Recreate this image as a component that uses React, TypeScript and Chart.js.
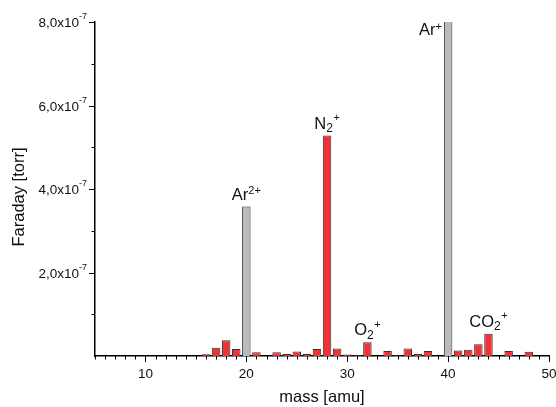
import React, { useEffect, useRef } from 'react';
import { Chart, registerables } from 'chart.js';

Chart.register(...registerables);

// ---- data ----
const redMasses = [16, 17, 18, 19, 21, 23, 24, 25, 26, 27, 28, 29, 30, 31, 32, 34, 35, 36, 37, 38, 41, 42, 43, 44, 46, 48];
const redValues = [0.4e-8, 2.0e-8, 3.75e-8, 1.7e-8, 0.9e-8, 0.9e-8, 0.5e-8, 1.1e-8, 0.5e-8, 1.7e-8, 5.28e-7, 1.8e-8, 0.35e-8, 0.2e-8, 3.3e-8, 1.2e-8, 0.15e-8, 1.8e-8, 0.45e-8, 1.2e-8, 1.3e-8, 1.5e-8, 2.8e-8, 5.3e-8, 1.2e-8, 1.0e-8];
const grayMasses = [20, 40];
const grayValues = [3.58e-7, 8.4e-7];

const yTickValues = [2e-7, 4e-7, 6e-7, 8e-7];
const yTickMantissas = ['2,0', '4,0', '6,0', '8,0'];
const yTickExponent = '-7';
const yTitle = 'Faraday [torr]';
const xTitle = 'mass [amu]';

const peakMasses = [20, 28, 32, 40, 44];
const peakBase = ['Ar', 'N', 'O', 'Ar', 'CO'];
const peakSub = ['', '2', '2', '', '2'];
const peakSup = ['2+', '+', '+', '+', '+'];
const peakBeside = [false, false, false, true, false];

const RED = '#ee3338';
const GRAY = '#b7bbbb';
const EDGE = '#333333';
const FONT = "'Liberation Sans', Arial, Helvetica, sans-serif";

export default function App() {
  const ref = useRef<HTMLCanvasElement>(null);

  useEffect(() => {
    const canvas = ref.current;
    if (!canvas) return;

    const all = [
      ...redMasses.map((m, i) => ({ x: m, y: redValues[i], c: RED })),
      ...grayMasses.map((m, i) => ({ x: m, y: grayValues[i], c: GRAY })),
    ].sort((a, b) => a.x - b.x);

    const ticksPlugin = {
      id: 'customTicks',
      afterDraw(chart: any) {
        const ctx = chart.ctx;
        const xs = chart.scales.x;
        const ys = chart.scales.y;
        ctx.save();
        ctx.strokeStyle = '#000';
        ctx.lineWidth = 1;
        const yb = ys.bottom;
        xs.ticks.forEach((t: any) => {
          const px = Math.round(xs.getPixelForValue(t.value)) + 0.5;
          const len = Math.round(t.value) % 10 === 0 ? 6 : 3.5;
          ctx.beginPath();
          ctx.moveTo(px, yb);
          ctx.lineTo(px, yb + len);
          ctx.stroke();
        });
        const xl = xs.left;
        ys.ticks.forEach((t: any) => {
          const k = Math.round(t.value / 1e-7);
          if (k === 0) return;
          const py = Math.round(ys.getPixelForValue(t.value)) + 0.5;
          const len = k % 2 === 0 ? 6 : 3.5;
          ctx.beginPath();
          ctx.moveTo(xl, py);
          ctx.lineTo(xl - len, py);
          ctx.stroke();
        });
        // y tick labels with superscript exponent
        ctx.fillStyle = '#111';
        yTickValues.forEach((v, i) => {
          const py = ys.getPixelForValue(v);
          ctx.font = `9px ${FONT}`;
          const supW = ctx.measureText(yTickExponent).width;
          const right = xl - 8;
          ctx.textAlign = 'right';
          ctx.textBaseline = 'alphabetic';
          ctx.fillText(yTickExponent, right, py - 3);
          ctx.font = `13.5px ${FONT}`;
          ctx.fillText(yTickMantissas[i] + 'x10', right - supW, py + 5);
        });
        // y axis title
        ctx.save();
        ctx.translate(19, (ys.top + ys.bottom) / 2 + 8);
        ctx.rotate(-Math.PI / 2);
        ctx.font = `16.5px ${FONT}`;
        ctx.textAlign = 'center';
        ctx.textBaseline = 'middle';
        ctx.fillStyle = '#111';
        ctx.fillText(yTitle, 0, 0);
        ctx.restore();
        // peak labels
        const meta = chart.getDatasetMeta(0);
        peakMasses.forEach((m, i) => {
          const idx = all.findIndex((d) => d.x === m);
          if (idx < 0) return;
          const bar = meta.data[idx];
          const px = xs.getPixelForValue(m);
          const top = Math.max(ys.top, ys.getPixelForValue(all[idx].y));
          const half = bar && bar.width ? bar.width / 2 : 4;
          ctx.font = `16.5px ${FONT}`;
          const wBase = ctx.measureText(peakBase[i]).width;
          ctx.font = `12px ${FONT}`;
          const wSub = peakSub[i] ? ctx.measureText(peakSub[i]).width + 0.5 : 0;
          ctx.font = `11px ${FONT}`;
          const wSup = ctx.measureText(peakSup[i]).width;
          const total = wBase + wSub + wSup;
          let x0: number;
          let base: number;
          if (peakBeside[i]) {
            x0 = px - half - 2 - total;
            base = ys.top + 13;
          } else {
            x0 = px - total / 2;
            base = top - 7;
          }
          ctx.textAlign = 'left';
          ctx.textBaseline = 'alphabetic';
          ctx.fillStyle = '#111';
          ctx.font = `16.5px ${FONT}`;
          ctx.fillText(peakBase[i], x0, base);
          let cx = x0 + wBase;
          if (peakSub[i]) {
            ctx.font = `12px ${FONT}`;
            ctx.fillText(peakSub[i], cx, base + 3.5);
            cx += wSub;
          }
          ctx.font = `11px ${FONT}`;
          ctx.fillText(peakSup[i], cx, base - (peakSub[i] ? 7.5 : 5.5));
        });
        ctx.restore();
      },
    };

    const chart = new Chart(canvas, {
      type: 'bar',
      data: {
        datasets: [
          {
            data: all.map((d) => ({ x: d.x, y: d.y })),
            backgroundColor: all.map((d) => d.c),
            borderColor: EDGE,
            borderWidth: 1,
            categoryPercentage: 1,
            barPercentage: 0.84,
          } as any,
        ],
      },
      options: {
        responsive: false,
        animation: false,
        devicePixelRatio: 1,
        layout: { padding: { top: 22, right: 7, left: 0, bottom: 0 } },
        plugins: { legend: { display: false }, tooltip: { enabled: false } },
        scales: {
          x: {
            type: 'linear',
            min: 5,
            max: 50,
            offset: false,
            grid: { display: false, drawTicks: false, offset: false },
            border: { display: true, color: '#000', width: 1.5 },
            ticks: {
              stepSize: 1,
              autoSkip: false,
              maxTicksLimit: 100,
              maxRotation: 0,
              padding: 10,
              color: '#111',
              font: { family: FONT, size: 13.5 },
              callback: (v: any) => (Math.round(v) % 10 === 0 ? String(Math.round(v)) : ''),
            },
            title: {
              display: true,
              text: xTitle,
              color: '#111',
              font: { family: FONT, size: 16.5 },
              padding: { top: 0, bottom: 0 },
            },
            afterFit: (s: any) => {
              s.height = 51;
              s.paddingLeft = 0;
              s.paddingRight = 0;
            },
          },
          y: {
            min: 0,
            max: 8e-7,
            grid: { display: false, drawTicks: false },
            border: { display: true, color: '#000', width: 1.5 },
            ticks: { stepSize: 1e-7, display: false },
            title: { display: false },
            afterFit: (s: any) => {
              s.width = 95;
              s.paddingTop = 0;
              s.paddingBottom = 0;
            },
          },
        },
      } as any,
      plugins: [ticksPlugin],
    });

    return () => chart.destroy();
  }, []);

  return (
    <div style={{ position: 'fixed', left: 0, top: 0, width: 556, height: 407, background: '#fff' }}>
      <canvas ref={ref} width={556} height={407} style={{ width: 556, height: 407, display: 'block' }} />
    </div>
  );
}
